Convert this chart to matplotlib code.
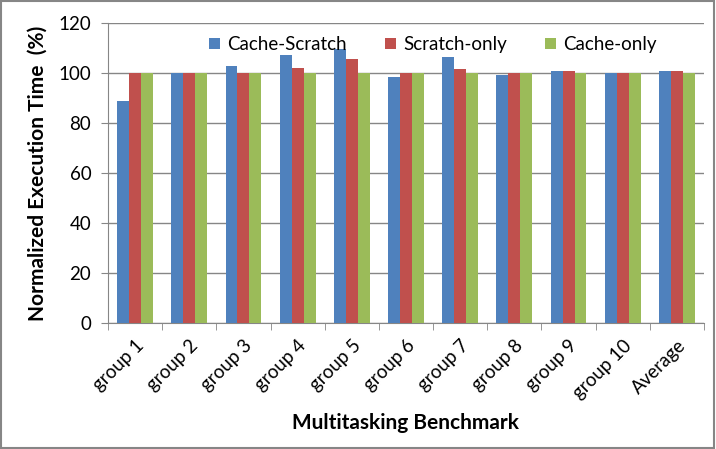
import numpy as np
import matplotlib.pyplot as plt
from matplotlib.patches import Rectangle

groups = ['group 1', 'group 2', 'group 3', 'group 4', 'group 5', 'group 6',
          'group 7', 'group 8', 'group 9', 'group 10', 'Average']
cache_scratch = [89, 100, 103, 107.2, 109.6, 98.5, 106.5, 99.3, 100.9, 100, 101]
scratch_only = [100, 100, 100, 102.2, 105.7, 100, 101.7, 100, 100.9, 100, 101]
cache_only = [100, 100, 100, 100, 100, 100, 100, 100, 100, 100, 100]

plt.rcParams['font.family'] = ['Lato', 'DejaVu Sans']

fig = plt.figure(figsize=(7.16, 4.49), dpi=100)
ax = fig.add_axes([108 / 716, 1 - 323 / 449, 596 / 716, 300 / 449])

x = np.arange(len(groups))
w = 0.22
ax.bar(x - w, cache_scratch, w, color='#4F81BD', label='Cache-Scratch', zorder=3)
ax.bar(x, scratch_only, w, color='#C0504D', label='Scratch-only', zorder=3)
ax.bar(x + w, cache_only, w, color='#9BBB59', label='Cache-only', zorder=3)

ax.set_xlim(-0.5, len(groups) - 0.5)
ax.set_ylim(0, 120)
ax.set_yticks(range(0, 121, 20))
ax.yaxis.grid(True, color='#868686', linewidth=1, zorder=0)
ax.set_xticks(x)
ax.set_xticklabels(groups, rotation=45, ha='right', rotation_mode='anchor', fontsize=13.5)
ax.set_xticks(np.arange(-0.5, len(groups)), minor=True)
ax.tick_params(axis='x', which='major', length=0, pad=10)
ax.tick_params(axis='x', which='minor', length=5, color='#868686')
ax.tick_params(axis='y', length=5, color='#868686', labelsize=13.5, pad=7)

for s in ['top', 'right']:
    ax.spines[s].set_visible(False)
for s in ['left', 'bottom']:
    ax.spines[s].set_color('#868686')

ax.set_ylabel('Normalized Execution Time  (%)', fontsize=15, fontweight='bold', labelpad=8)
ax.set_xlabel('Multitasking Benchmark', fontsize=15, fontweight='bold', labelpad=8)

ax.legend(loc='upper center', bbox_to_anchor=(0.545, 1.0), ncol=3, frameon=False,
          fontsize=13.5, handlelength=0.6, handleheight=0.6, columnspacing=2.0,
          handletextpad=0.4, borderaxespad=0.3)

fig.patches.append(Rectangle((0.002, 0.002), 0.995, 0.995, transform=fig.transFigure,
                             fill=False, edgecolor='#868686', linewidth=1.5))

fig.savefig('out.png', dpi=100)
plt.close()
